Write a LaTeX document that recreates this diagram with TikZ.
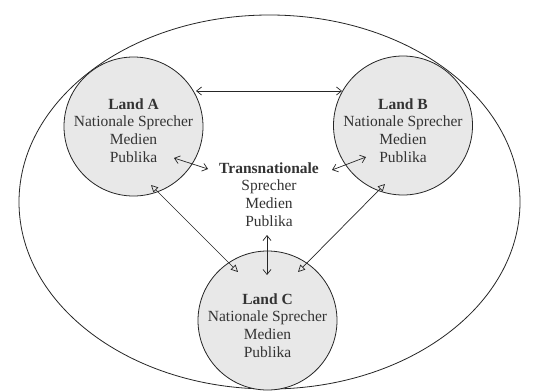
\documentclass[tikz,border=0pt]{standalone}
\usepackage{fontspec}
\setmainfont{Liberation Serif}
\usetikzlibrary{arrows.meta,shapes.geometric}
\begin{document}
\begin{tikzpicture}[x=1pt,y=-1pt,
  land/.style={circle, draw=black!85, line width=0.8pt, fill=black!9, minimum size=139pt, inner sep=0pt},
  txt/.style={align=center, font=\fontsize{15.5}{17.7}\selectfont, text=black!80},
  barb/.style={draw=black!85, line width=0.7pt, {Straight Barb[length=5pt,width=8pt]}-{Straight Barb[length=5pt,width=8pt]}},
  tri/.style={draw=black!85, line width=0.7pt, {Triangle[open,length=7pt,width=7pt]}-{Triangle[open,length=7pt,width=7pt]}}]
\useasboundingbox (0,0) rectangle (534,391);
\fill[white] (0,0) rectangle (534,391);
\node[draw=black!85, line width=0.8pt, ellipse, minimum width=501pt, minimum height=374pt, inner sep=0pt] (world) at (269.5,202) {};
\node[land] (A) at (133.5,126.5) {};
\node[land] (B) at (403,125.5) {};
\node[land] (C) at (267.5,320.5) {};
\node[txt, anchor=north] (tA) at (133.5,95) {\textbf{Land A}\\Nationale Sprecher\\Medien\\Publika};
\node[txt, anchor=north] (tB) at (403,95) {\textbf{Land B}\\Nationale Sprecher\\Medien\\Publika};
\node[txt, anchor=north] (tC) at (267.5,290) {\textbf{Land C}\\Nationale Sprecher\\Medien\\Publika};
\node[txt, anchor=north] (T) at (269,159) {\textbf{Transnationale}\\Sprecher\\Medien\\Publika};
\coordinate (ab1) at (196,91);
\coordinate (ab2) at (342,91);
\coordinate (at1) at (174,158);
\coordinate (at2) at (208,169);
\coordinate (bt1) at (332,170);
\coordinate (bt2) at (366,157);
\coordinate (ac1) at (151,185);
\coordinate (ac2) at (238,272);
\coordinate (bc1) at (385,184);
\coordinate (bc2) at (298,272);
\coordinate (tc1) at (267,235);
\coordinate (tc2) at (267,275);
\draw[barb] (ab1) -- (ab2);
\draw[barb] (at1) -- (at2);
\draw[barb] (bt1) -- (bt2);
\draw[tri] (ac1) -- (ac2);
\draw[tri] (bc1) -- (bc2);
\draw[barb] (tc1) -- (tc2);
\end{tikzpicture}
\end{document}
